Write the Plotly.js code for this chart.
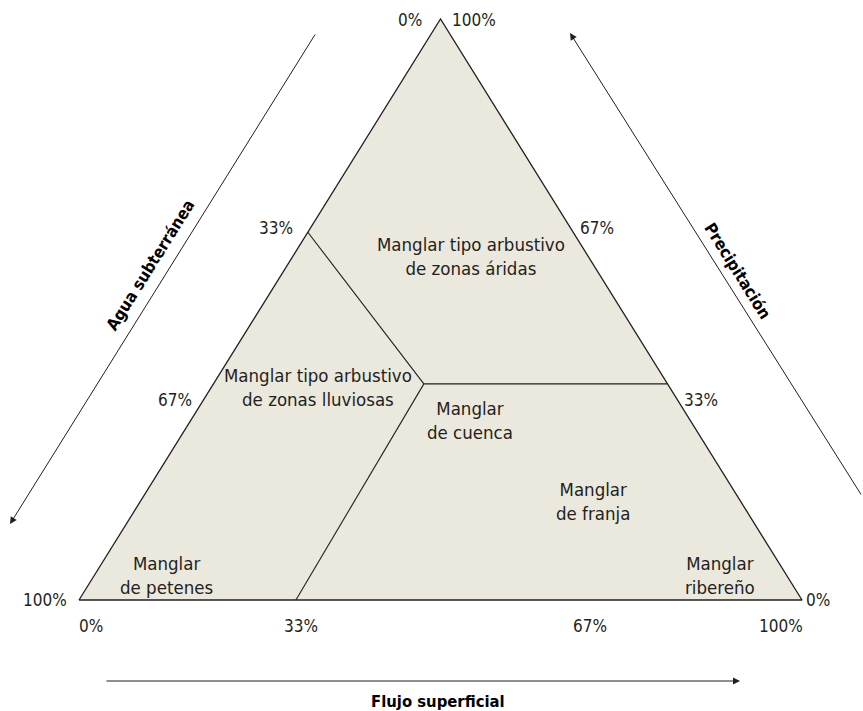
<!DOCTYPE html>
<html>
<head>
<meta charset="utf-8">
<script src="https://cdn.plot.ly/plotly-3.0.1.min.js"></script>
<style>html,body{margin:0;padding:0;background:#fff;}#chart{width:863px;height:711px;}</style>
</head>
<body>
<div id="chart"></div>
<script>
// ---- Data (ternary percentages: agua subterránea, precipitación, flujo superficial) ----
const vertexAgua   = [100, 0, 0];
const vertexPrecip = [0, 0, 100];
const vertexFlujo  = [0, 100, 0];
// Central junction point of the classification regions
const centreAgua = 33.7, centrePrecip = 37.2, centreFlujo = 29.1;
// Edge end-points of the three region boundaries (left edge, bottom edge, right edge)
const edgeAgua   = [36.7, 70.0, 0];
const edgePrecip = [63.3, 0, 37.2];
const edgeFlujo  = [0, 30.0, 62.8];
// Tick labels
const flujoTickLabels  = ['0%', '33%', '67%', '100%'];
const aguaTickLabels   = ['0%', '33%', '67%', '100%'];
const precipTickLabels = ['100%', '67%', '33%', '0%'];
// Region names
const regionNames = [
  'Manglar tipo arbustivo<br>de zonas áridas',
  'Manglar tipo arbustivo<br>de zonas lluviosas',
  'Manglar<br>de cuenca',
  'Manglar<br>de franja',
  'Manglar<br>de petenes',
  'Manglar<br>ribereño'
];
const axisTitles = ['Agua subterránea', 'Precipitación', 'Flujo superficial'];

// ---- Geometry helpers ----
function tx(a, p, f) { const s = a + p + f; return (f + p / 2) / s; }
function ty(a, p, f) { const s = a + p + f; return p / s; }
const W = 863, H = 711;
function px(x) { return x / W; }
function py(y) { return 1 - y / H; }

const FONT = '"Liberation Sans Narrow", "DejaVu Sans Condensed", "Arial Narrow", sans-serif';
const LINE = '#231f20';

const triX = [], triY = [];
for (let i = 0; i < 3; i++) { triX.push(tx(vertexAgua[i], vertexPrecip[i], vertexFlujo[i])); triY.push(ty(vertexAgua[i], vertexPrecip[i], vertexFlujo[i])); }
triX.push(triX[0]); triY.push(triY[0]);

const traces = [{
  x: triX, y: triY, mode: 'lines', fill: 'toself', fillcolor: '#ebe8de',
  line: {color: LINE, width: 1.3}, hoverinfo: 'skip', showlegend: false
}];
for (let i = 0; i < 3; i++) {
  traces.push({
    x: [tx(centreAgua, centrePrecip, centreFlujo), tx(edgeAgua[i], edgePrecip[i], edgeFlujo[i])],
    y: [ty(centreAgua, centrePrecip, centreFlujo), ty(edgeAgua[i], edgePrecip[i], edgeFlujo[i])],
    mode: 'lines', line: {color: LINE, width: 1.1}, hoverinfo: 'skip', showlegend: false
  });
}

// Label layout positions (pixels)
const flujoTickPos  = [[91, 626], [301, 626], [590, 626], [781, 626]];
const aguaTickPos   = [[410, 20], [276, 228], [175, 400], [45, 600]];
const precipTickPos = [[474, 20], [597, 228], [701, 400], [818, 600]];
const regionPos = [[471, 257], [318, 388], [470, 421], [593, 501], [166, 575], [720, 575]];

const ann = [];
function lab(text, pos, opts) {
  ann.push(Object.assign({xref: 'paper', yref: 'paper', x: px(pos[0]), y: py(pos[1]), text: text,
    showarrow: false, xanchor: 'center', yanchor: 'middle',
    font: {family: FONT, size: 17, color: '#231f20'}}, opts || {}));
}
flujoTickLabels.forEach((t, i) => lab(t, flujoTickPos[i]));
aguaTickLabels.forEach((t, i) => lab(t, aguaTickPos[i]));
precipTickLabels.forEach((t, i) => lab(t, precipTickPos[i]));
regionNames.forEach((t, i) => lab(t, regionPos[i], {font: {family: FONT, size: 18.5, color: '#231f20'}}));

const boldFont = {family: FONT, size: 16.5, color: '#000', weight: 'bold'};
lab('<b>' + axisTitles[0] + '</b>', [150, 265], {textangle: -58, font: boldFont});
lab('<b>' + axisTitles[1] + '</b>', [738, 271], {textangle: 58, font: boldFont});
lab('<b>' + axisTitles[2] + '</b>', [438, 701], {font: boldFont});

function arrow(tail, head) {
  ann.push({xref: 'paper', yref: 'paper', x: px(head[0]), y: py(head[1]), ax: tail[0] - head[0], ay: tail[1] - head[1],
    text: '', showarrow: true, arrowhead: 2, arrowsize: 1.4, arrowwidth: 1, arrowcolor: '#231f20', standoff: 0, startstandoff: 0});
}
arrow([316, 33], [10, 524]);
arrow([862, 496], [570, 33]);
arrow([105, 681], [740, 681]);

const layout = {
  width: W, height: H,
  margin: {l: 0, r: 0, t: 0, b: 0, pad: 0},
  paper_bgcolor: '#fff', plot_bgcolor: '#fff',
  xaxis: {range: [-79 / 723, 784 / 723], visible: false, fixedrange: true},
  yaxis: {range: [-111 / 581, 600 / 581], visible: false, fixedrange: true},
  annotations: ann,
  showlegend: false
};
Plotly.newPlot('chart', traces, layout, {displayModeBar: false, staticPlot: true});
</script>
</body>
</html>
